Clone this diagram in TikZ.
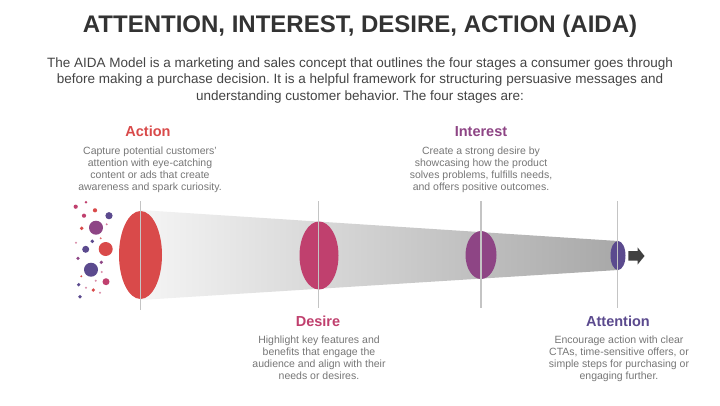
\documentclass[tikz,border=0pt]{standalone}
\usepackage{fontspec}
\setmainfont{Liberation Sans}
\usetikzlibrary{shapes.geometric}
\frenchspacing
\definecolor{cact}{HTML}{D94A4A}
\definecolor{cdes}{HTML}{C0406E}
\definecolor{cint}{HTML}{8E4585}
\definecolor{catt}{HTML}{5B4A8E}
\definecolor{ctitle}{HTML}{333333}
\definecolor{cpara}{HTML}{444444}
\definecolor{cdesc}{HTML}{777777}
\definecolor{cline}{HTML}{C4C4C4}
\definecolor{carrow}{HTML}{404040}
\tikzset{
  stage/.style={ellipse, draw=none, inner sep=0pt},
  head/.style={font=\fontsize{14.5}{16}\selectfont\bfseries, inner sep=0pt, anchor=center},
  desc/.style={font=\fontsize{10.5}{12}\selectfont\frenchspacing, text=cdesc, align=center, inner sep=0pt, anchor=north},
  vline/.style={draw=cline, line width=1.1pt},
}
\begin{document}
\begin{tikzpicture}[x=1pt,y=-1pt]
\useasboundingbox[fill=white] (0,0) rectangle (720,405);
% title
\node[font=\fontsize{24}{27}\selectfont\bfseries, text=ctitle, inner sep=0pt, anchor=base] (title) at (360,32.7) {ATTENTION, INTEREST, DESIRE, ACTION (AIDA)};
\node[font=\fontsize{13.5}{16.5}\selectfont\frenchspacing, text=cpara, align=center, inner sep=0pt, anchor=north] (para) at (360,57.5)
 {The AIDA Model is a marketing and sales concept that outlines the four stages a consumer goes through\\
  before making a purchase decision. It is a helpful framework for structuring persuasive messages and\\
  understanding customer behavior. The four stages are:};
% funnel
\shade[left color=black!4, right color=black!34] (140,210) -- (618,241) -- (618,270) -- (140,300) -- cycle;
% ellipses
\node[stage, fill=cact, minimum width=43pt, minimum height=88pt] (eact) at (140.5,255) {};
\node[stage, fill=cdes, minimum width=39pt, minimum height=68pt] (edes) at (319,255.5) {};
\node[stage, fill=cint, minimum width=31pt, minimum height=48pt] (eint) at (481,255) {};
\node[stage, fill=catt, minimum width=15pt, minimum height=29pt] (eatt) at (618,255.5) {};
% vertical lines
\coordinate (t1) at (140.5,201); \coordinate (b1) at (140.5,310);
\coordinate (t2) at (318.5,201); \coordinate (b2) at (318.5,308);
\coordinate (t3) at (481,201); \coordinate (b3) at (481,308);
\coordinate (t4) at (617.5,201); \coordinate (b4) at (617.5,308);
\draw[vline] (t1) -- (b1);
\draw[vline] (t2) -- (b2);
\draw[vline] (t3) -- (b3);
\draw[vline] (t4) -- (b4);
% arrow
\fill[carrow] (628.3,251) -- (637.5,251) -- (637.5,247.3) -- (644.5,256) -- (637.5,264.7) -- (637.5,260.5) -- (628.3,260.5) -- cycle;
% bubbles
\fill[cdes] (75.7,206.7) circle (2.1);
\fill[cdes] (86,202.3) circle (1.4);
\fill[cdes] (84,215.7) circle (2.1);
\fill[cact] (95,210.3) circle (2.1);
\fill[catt] (109,215.7) circle (3.6);
\fill[cint] (96,227.7) circle (7);
\fill[cact] (81.7,228.3) circle (1.9);
\fill[cdes!70] (106.7,224.3) circle (1.1);
\fill[catt] (92.3,241.3) circle (1.9);
\fill[cdes!60] (76,242.7) circle (1.1);
\fill[cact!80] (100.7,238.3) circle (1.1);
\fill[cact] (105.7,249) circle (7);
\fill[catt] (85.7,249.3) circle (3.5);
\fill[cint] (78,258.3) circle (1.8);
\fill[cint] (101.3,262.3) circle (1.8);
\fill[catt] (91,269.7) circle (7);
\fill[cdes!60] (101.7,272) circle (1.1);
\fill[cdes] (106,281.7) circle (3.5);
\fill[cact] (81.3,276.3) circle (1.1);
\fill[cdes!60] (95.7,280.7) circle (1.1);
\fill[catt] (78.7,284.7) circle (1.8);
\fill[cdes!60] (86,287.7) circle (1.1);
\fill[cact] (93.3,290) circle (1.8);
\fill[cdes!60] (100,292.7) circle (1.1);
\fill[catt] (80,296.7) circle (1.8);
% labels
\node[head, text=cact] (hact) at (148,131) {Action};
\node[desc] (dact) at (150,146.5) {Capture potential customers'\\attention with eye-catching\\content or ads that create\\awareness and spark curiosity.};
\node[head, text=cint] (hint) at (481,131.5) {Interest};
\node[desc] (dint) at (481,146.5) {Create a strong desire by\\showcasing how the product\\solves problems, fulfills needs,\\and offers positive outcomes.};
\node[head, text=cdes] (hdes) at (318,321) {Desire};
\node[desc] (ddes) at (319,335.5) {Highlight key features and\\benefits that engage the\\audience and align with their\\needs or desires.};
\node[head, text=catt] (hatt) at (618,321) {Attention};
\node[desc] (datt) at (619,335.5) {Encourage action with clear\\CTAs, time-sensitive offers, or\\simple steps for purchasing or\\engaging further.};
\end{tikzpicture}
\end{document}
